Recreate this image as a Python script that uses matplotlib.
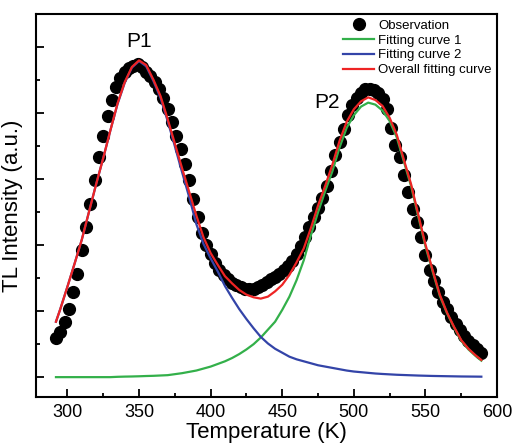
import numpy as np
import matplotlib
matplotlib.use("Agg")
import matplotlib.pyplot as plt
from matplotlib.ticker import MultipleLocator, NullFormatter

plt.rcParams['font.family'] = ['Liberation Sans', 'DejaVu Sans']

obs_temp = np.arange(292, 590, 3)
obs_tl = [0.60, 0.68, 0.84, 1.04, 1.29, 1.57, 1.93, 2.28, 2.63, 2.98,
          3.33, 3.66, 3.96, 4.20, 4.39, 4.53, 4.62, 4.68, 4.72, 4.74,
          4.70, 4.63, 4.56, 4.48, 4.36, 4.23, 4.06, 3.87, 3.66, 3.45,
          3.23, 2.99, 2.70, 2.43, 2.19, 2.01, 1.86, 1.73, 1.63, 1.55,
          1.48, 1.43, 1.39, 1.36, 1.34, 1.33, 1.34, 1.36, 1.40, 1.44,
          1.48, 1.52, 1.57, 1.62, 1.68, 1.76, 1.86, 1.99, 2.13, 2.28,
          2.43, 2.57, 2.71, 2.90, 3.13, 3.36, 3.56, 3.76, 3.98, 4.12,
          4.23, 4.31, 4.36, 4.37, 4.35, 4.30, 4.22, 4.07, 3.78, 3.52,
          3.33, 3.06, 2.80, 2.55, 2.35, 2.12, 1.85, 1.63, 1.46, 1.29,
          1.14, 1.04, 0.91, 0.80, 0.71, 0.62, 0.55, 0.49, 0.43, 0.37]

# fitted curves
fit_temp = [292, 295, 300, 305, 310, 315, 320, 325, 330, 335, 340, 345, 350,
            355, 360, 365, 370, 375, 380, 385, 390, 395, 400, 405, 410, 415,
            420, 425, 430, 435, 440, 445, 450, 455, 460, 465, 470, 475, 480,
            485, 490, 495, 500, 505, 510, 515, 520, 525, 530, 535, 540, 545,
            550, 555, 560, 565, 570, 575, 580, 585, 589]
fit1 = [0.0, 0.0, 0.0, 0.0, 0.0, 0.0, 0.0, 0.0, 0.0, 0.005, 0.008, 0.01, 0.013,
        0.017, 0.02, 0.025, 0.03, 0.045, 0.06, 0.08, 0.10, 0.13, 0.16, 0.20,
        0.24, 0.29, 0.35, 0.42, 0.50, 0.60, 0.72, 0.84, 1.02, 1.22, 1.47,
        1.77, 2.15, 2.50, 2.82, 3.12, 3.48, 3.78, 3.97, 4.10, 4.16, 4.13,
        4.04, 3.88, 3.63, 3.26, 2.89, 2.43, 1.98, 1.60, 1.23, 0.97, 0.75,
        0.55, 0.42, 0.32, 0.25]
fit2 = [0.84, 1.03, 1.37, 1.72, 2.08, 2.50, 2.92, 3.32, 3.74, 4.14, 4.46,
        4.69, 4.79, 4.71, 4.49, 4.23, 3.88, 3.50, 3.11, 2.73, 2.32, 2.02,
        1.80, 1.60, 1.38, 1.20, 1.03, 0.88, 0.74, 0.61, 0.51, 0.43, 0.37,
        0.31, 0.27, 0.24, 0.21, 0.18, 0.16, 0.14, 0.12, 0.10, 0.085, 0.075,
        0.065, 0.055, 0.048, 0.042, 0.036, 0.032, 0.028, 0.024, 0.021,
        0.018, 0.016, 0.014, 0.012, 0.010, 0.009, 0.008, 0.007]
fit_all = [0.84, 1.03, 1.37, 1.72, 2.08, 2.50, 2.92, 3.32, 3.74, 4.15, 4.47,
           4.70, 4.80, 4.73, 4.51, 4.26, 3.91, 3.54, 3.17, 2.81, 2.45, 2.12,
           1.88, 1.70, 1.53, 1.42, 1.32, 1.25, 1.21, 1.19, 1.22, 1.30, 1.40,
           1.55, 1.74, 1.95, 2.26, 2.60, 2.90, 3.22, 3.58, 3.87, 4.06, 4.18,
           4.24, 4.20, 4.11, 3.93, 3.67, 3.29, 2.92, 2.46, 2.01, 1.62, 1.25,
           0.98, 0.76, 0.56, 0.43, 0.33, 0.26]

fig = plt.figure(figsize=(5.13, 4.44), dpi=100)
ax = fig.add_axes([0.070, 0.106, 0.899, 0.862])

ax.plot(obs_temp, obs_tl, 'o', color='black', ms=8.5, label='Observation')
ax.plot(fit_temp, fit1, color='#33b04a', lw=1.6, label='Fitting curve 1')
ax.plot(fit_temp, fit2, color='#3344a8', lw=1.6, label='Fitting curve 2')
ax.plot(fit_temp, fit_all, color='#ee2424', lw=1.6, label='Overall fitting curve')

ax.text(350, 4.95, 'P1', fontsize=15, ha='center', va='bottom')
ax.text(481, 4.02, 'P2', fontsize=15, ha='center', va='bottom')

ax.set_xlim(278, 600)
ax.set_ylim(-0.3, 5.5)
ax.xaxis.set_major_locator(MultipleLocator(50))
ax.xaxis.set_minor_locator(MultipleLocator(25))
ax.yaxis.set_major_locator(MultipleLocator(1))
ax.yaxis.set_minor_locator(MultipleLocator(0.5))
ax.yaxis.set_major_formatter(NullFormatter())
ax.tick_params(which='both', direction='in', width=1.3, labelsize=13, pad=5)
ax.tick_params(which='major', length=6)
ax.tick_params(which='minor', length=3)
for s in ax.spines.values():
    s.set_linewidth(1.5)

ax.set_xlabel('Temperature (K)', fontsize=16, labelpad=1)
ax.set_ylabel('TL Intensity (a.u.)', fontsize=16)

ax.legend(loc='upper right', frameon=False, fontsize=9.5, handlelength=2.4,
          handletextpad=0.3, labelspacing=0.2, borderaxespad=0.2,
          borderpad=0.2, markerscale=1.0)

fig.savefig('out.png', dpi=100)
